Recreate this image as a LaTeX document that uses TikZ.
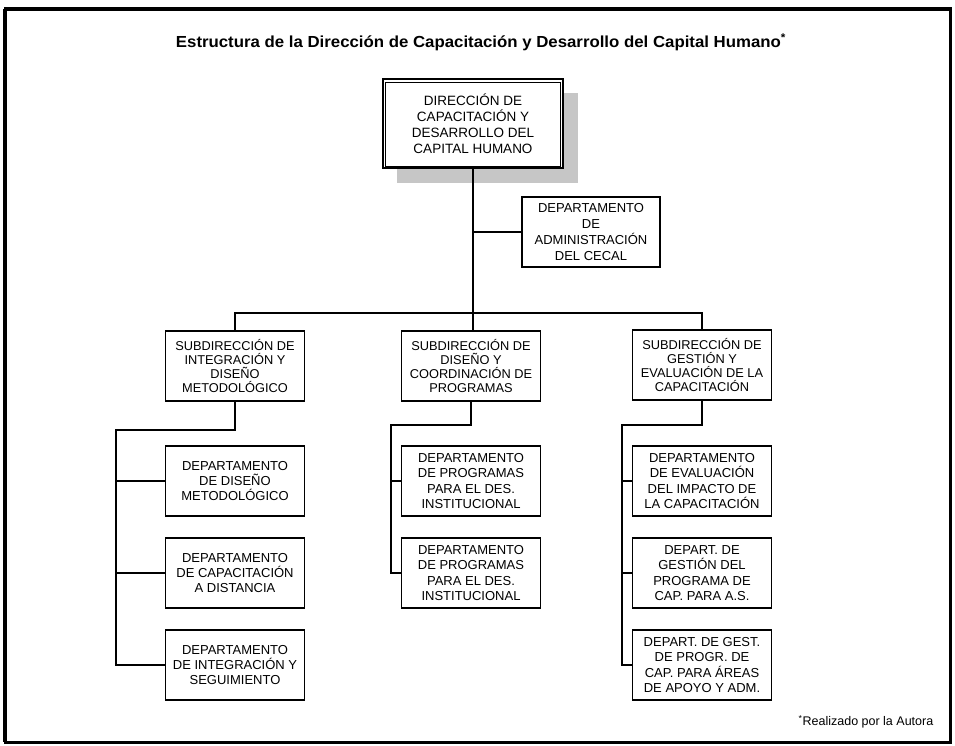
\documentclass[tikz,border=0pt]{standalone}
\usepackage{fontspec}
\setmainfont{Liberation Sans}
\usetikzlibrary{calc}
\begin{document}
\begin{tikzpicture}[x=1pt,y=-1pt,
  every node/.style={font=\fontsize{13}{15}\selectfont},
  unit/.style={draw=black, line width=1.2pt, fill=white, align=center,
    minimum width=139pt, minimum height=70pt, inner sep=1pt},
  subunit/.style={unit, font=\fontsize{12.8}{14.3}\selectfont},
  dept/.style={unit, font=\fontsize{13}{15.2}\selectfont},
  link/.style={draw=black, line width=1.2pt}]
  \useasboundingbox (0,0) rectangle (955,746);
  % outer frame
  \draw[line width=3pt] (5,9) rectangle (950,742);
  \draw[line width=4.5pt] (5,9) -- (950,9);
  \draw[line width=4.5pt] (5,9) -- (5,742);

  % title
  \node (title) at (481,42) {\scalebox{1.05}[1]{\fontsize{16}{18}\selectfont\bfseries Estructura de la Dirección de Capacitación y Desarrollo del Capital Humano\textsuperscript{*}}};

  % head office with drop shadow and double frame
  \fill[gray!45] (397,93) rectangle (578,183);
  \node[draw=black, line width=2pt, fill=white, align=center,
    minimum width=180pt, minimum height=89pt, inner sep=2pt,
    font=\fontsize{13.5}{16}\selectfont] (top) at (473,124)
    {DIRECCIÓN DE\\CAPACITACIÓN Y\\DESARROLLO DEL\\CAPITAL HUMANO};
  \draw[line width=0.8pt] ([shift={(3.5pt,-3.5pt)}]top.north west) rectangle ([shift={(-3.5pt,3.5pt)}]top.south east);

  % staff department
  \node[dept, minimum width=138pt, font=\fontsize{13}{15.7}\selectfont] (cecal) at (591,232)
    {DEPARTAMENTO\\DE\\ADMINISTRACIÓN\\DEL CECAL};

  % sub-directorates
  \node[subunit] (s1) at (235,366) {SUBDIRECCIÓN DE\\INTEGRACIÓN Y\\DISEÑO\\METODOLÓGICO};
  \node[subunit] (s2) at (471,366) {SUBDIRECCIÓN DE\\DISEÑO Y\\COORDINACIÓN DE\\PROGRAMAS};
  \node[subunit] (s3) at (702,365) {SUBDIRECCIÓN DE\\GESTIÓN Y\\EVALUACIÓN DE LA\\CAPACITACIÓN};

  % departments, left column
  \node[dept] (l1) at (235,481) {DEPARTAMENTO\\DE DISEÑO\\METODOLÓGICO};
  \node[dept] (l2) at (235,573) {DEPARTAMENTO\\DE CAPACITACIÓN\\A DISTANCIA};
  \node[dept] (l3) at (235,665) {DEPARTAMENTO\\DE INTEGRACIÓN Y\\SEGUIMIENTO};
  % departments, middle column
  \node[dept] (m1) at (471,481) {DEPARTAMENTO\\DE PROGRAMAS\\PARA EL DES.\\INSTITUCIONAL};
  \node[dept] (m2) at (471,573) {DEPARTAMENTO\\DE PROGRAMAS\\PARA EL DES.\\INSTITUCIONAL};
  % departments, right column
  \node[dept] (r1) at (702,481) {DEPARTAMENTO\\DE EVALUACIÓN\\DEL IMPACTO DE\\LA CAPACITACIÓN};
  \node[dept] (r2) at (702,573) {DEPART. DE\\GESTIÓN DEL\\PROGRAMA DE\\CAP. PARA A.S.};
  \node[dept] (r3) at (702,665) {DEPART. DE GEST.\\DE PROGR. DE\\CAP. PARA ÁREAS\\DE APOYO Y ADM.};

  % connectors
  \coordinate (busL) at (235,313);
  \coordinate (busR) at (702,313);
  \draw[link] (top.south) -- (top.south |- s2.north);
  \draw[link] (top.south |- cecal.west) -- (cecal.west);
  \draw[link] (s1.north) -- (busL) -- (busR) -- (s3.north);

  \coordinate (lbL) at (116,430);
  \coordinate (lbM) at (391,425);
  \coordinate (lbR) at (622,425);
  \draw[link] (s1.south) |- (lbL) |- (l3.west);
  \draw[link] (lbL) |- (l1.west);
  \draw[link] (lbL) |- (l2.west);
  \draw[link] (s2.south) |- (lbM) |- (m2.west);
  \draw[link] (lbM) |- (m1.west);
  \draw[link] (s3.south) |- (lbR) |- (r3.west);
  \draw[link] (lbR) |- (r1.west);
  \draw[link] (lbR) |- (r2.west);

  % note
  \node[font=\fontsize{12.5}{14}\selectfont] (note) at (866,722) {\textsuperscript{*}Realizado por la Autora};
\end{tikzpicture}
\end{document}
